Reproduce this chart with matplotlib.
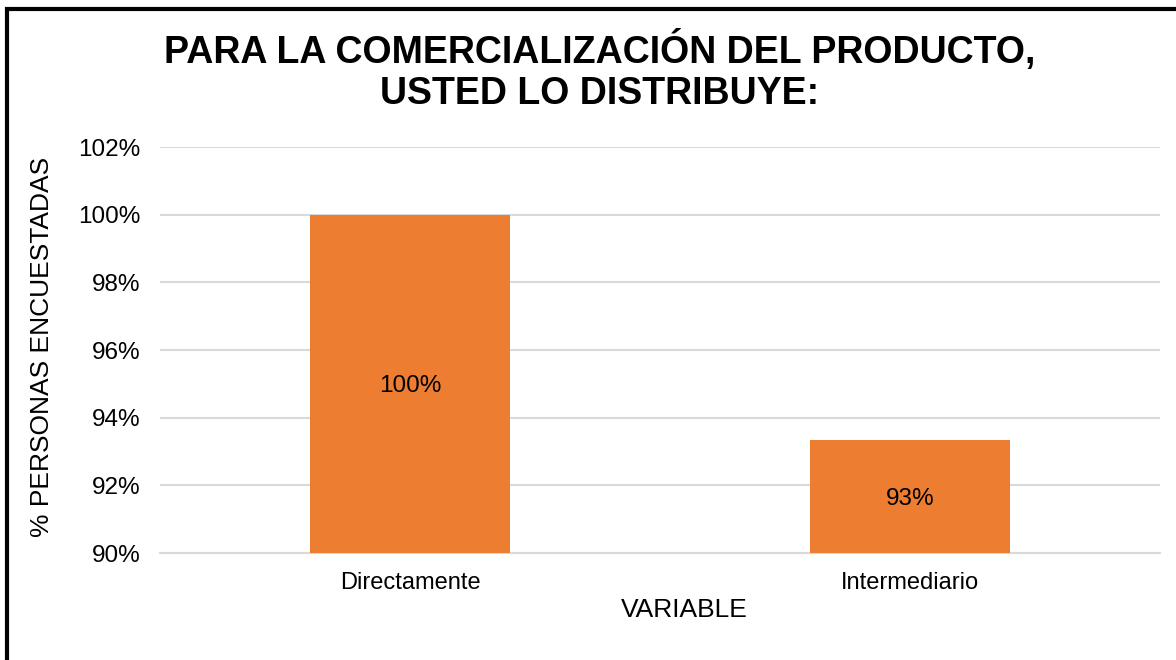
import numpy as np
import matplotlib.pyplot as plt
from matplotlib.patches import Rectangle

# data
categorias = ['Directamente', 'Intermediario']
valores = [100.0, 93.33]
etiquetas = ['100%', '93%']
yticks = [90, 92, 94, 96, 98, 100, 102]

plt.rcParams['font.family'] = ['Liberation Sans', 'DejaVu Sans']

fig = plt.figure(figsize=(11.76, 6.6), dpi=100)
ax = fig.add_axes([160/1176, 1 - 553/660, 1000/1176, 406/660])

x = np.arange(len(categorias))
bars = ax.bar(x, valores, width=0.4, color='#ED7D31', zorder=3)

for b, lab in zip(bars, etiquetas):
    y_mid = (90 + b.get_height()) / 2
    ax.text(b.get_x() + b.get_width() / 2, y_mid, lab, ha='center', va='center_baseline',
            fontsize=17.5, color='#000000', zorder=4)

ax.set_xlim(-0.5, 1.5)
ax.set_ylim(90, 102)
ax.set_yticks(yticks)
ax.set_yticklabels([f'{t}%' for t in yticks], fontsize=17.5)
ax.set_xticks(x)
ax.set_xticklabels(categorias, fontsize=17)
ax.tick_params(axis='y', length=0, pad=14)
ax.tick_params(axis='x', length=0, pad=14)
ax.yaxis.grid(True, color='#d9d9d9', linewidth=1.5, zorder=0)
for s in ax.spines.values():
    s.set_visible(False)
ax.spines['bottom'].set_visible(True)
ax.spines['bottom'].set_color('#d9d9d9')
ax.spines['bottom'].set_linewidth(1.5)

ax.set_xlabel('VARIABLE', fontsize=19)
ax.xaxis.set_label_coords(0.524, -0.111)
fig.text(42/1176, 1 - 347/660, '% PERSONAS ENCUESTADAS', rotation=90,
         ha='center', va='center', fontsize=19)

fig.text(600/1176, 1 - 71/660, 'PARA LA COMERCIALIZACIÓN DEL PRODUCTO,\nUSTED LO DISTRIBUYE:',
         ha='center', va='center', fontsize=27, fontweight='bold', linespacing=1.2)

# marco exterior
fig.patches.append(Rectangle((7/1176, -0.05), 1.1, 1 - 9/660 + 0.05, transform=fig.transFigure,
                             fill=False, edgecolor='black', linewidth=3))

fig.savefig('out.png', dpi=100)
